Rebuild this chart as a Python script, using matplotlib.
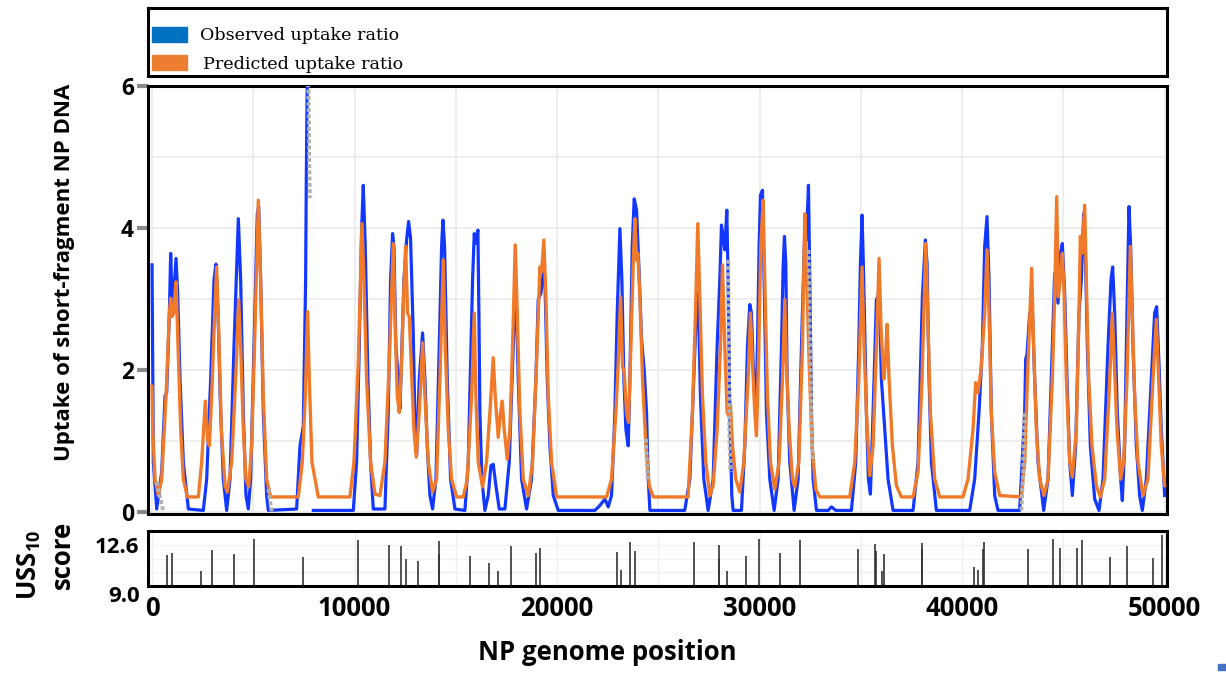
import numpy as np
import matplotlib
matplotlib.use('Agg')
import matplotlib.pyplot as plt
from matplotlib.patches import Rectangle

plt.rcParams['font.family'] = ['Open Sans', 'DejaVu Sans']
plt.rcParams['font.weight'] = 'bold'
plt.rcParams['mathtext.fontset'] = 'custom'
plt.rcParams['mathtext.rm'] = 'Open Sans:bold'
plt.rcParams['mathtext.bf'] = 'Open Sans:bold'

nan = np.nan

# observed uptake ratio
obs_x = [0, 66, 230, 477, 642, 724, 855, 921, 987, 1020, 1184, 1267, 1382, 1546, 1793,
         2533, 2698, 2895, 3060, 3158, 3257, 3389, 3520, 3685, 3849, 4047, 4261, 4376,
         4507, 4639, 4754, 4869, 5034, 5198, 5264, 5363, 5494, 5659, 5741, 7139, 7304,
         7468, 7583, 7616, 7680, nan, 7962, 9936, 10100, 10232, 10347, 10429, 10528,
         10660, 10791, 10923, 11498, 11663, 11778, 11877, 11943, 12041, 12157, 12239,
         12338, 12437, 12568, 12667, 12765, 12897, 12980, 13062, 13193, 13358, 13473,
         13588, 13720, 13852, 14016, 14181, 14296, 14362, 14444, 14576, 14740, 14954,
         15448, 15612, 15727, 15826, 15908, 15990, 16089, 16138, 16188, 16286, 16434,
         16599, 16730, 16846, 16977, 17142, 17422, 17636, 17833, 17964, 18080, 18244,
         18491, 18738, 18952, 19067, 19199, 19314, 19397, 19512, 19644, 19809, 20055,
         21865, 22112, 22358, 22523, 22687, 22852, 22967, 23099, 23197, 23296, 23395,
         23510, 23593, 23708, 23806, 23922, 24037, 24169, 24300, 24415, 24498, 24580,
         26300, 26551, 26748, 26880, 26962, 27078, 27242, 27456, 27703, 27900, 28032,
         28114, 28196, 28279, 28377, 28443, 28525, 28624, 28690, 29101, 29266, 29398,
         29513, 29595, 29677, 29809, 29891, 29973, 30039, 30138, 30220, 30335, 30500,
         30714, 30911, 31076, 31158, 31224, 31290, 31356, 31487, 31701, 31898, 32063,
         32228, 32310, 32409, 32475, 32557, 32640, 32804, 33380, 33545, 33758, 34530,
         34744, 34892, 34974, 35056, 35138, 35270, 35369, 35467, 35599, 35764, 35895,
         36010, 36175, 36339, 36586, 37573, 37820, 38033, 38182, 38264, 38363, 38478,
         38725, 40368, 40615, 40829, 40993, 41109, 41224, 41323, 41438, 41603, 41767,
         42836, 43084, 43133, 43199, 43331, 43462, 43577, 43742, 44022, 44236, 44450,
         44565, 44730, 44845, 44944, 45059, 45174, 45306, 45437, 45602, 45766, 45881,
         45997, 46079, 46178, 46326, 46540, 46754, 46951, 47198, 47346, 47428, 47527,
         47658, 47823, 47905, 48020, 48135, 48234, 48316, 48431, 48596, 48760, 48892,
         49089, 49336, 49500, 49599, 49714, 49829, 49994]
obs_y = [3.48, 0.70, 0.04, 0.56, 1.63, 1.68, 2.80, 3.64, 3.03, 2.80, 3.57, 3.08, 1.87, 0.70, 0.04,
         0.02, 0.46, 1.87, 3.27, 3.49, 2.80, 1.40, 0.46, 0.02, 0.46, 2.33, 4.13, 3.27,
         1.40, 0.23, 0.04, 0.46, 2.33, 4.20, 4.30, 3.27, 1.40, 0.23, 0.02, 0.04, 0.93,
         1.21, 3.27, 4.67, 6.60, nan, 0.02, 0.02, 0.70, 2.33, 3.97, 4.60, 3.74,
         1.87, 0.70, 0.04, 0.04, 1.40, 3.27, 3.92, 3.74, 2.33, 1.87, 1.45,
         2.33, 3.27, 3.83, 4.09, 3.85, 2.50, 1.30, 0.80, 1.87, 2.52, 1.87,
         0.93, 0.23, 0.04, 0.46, 2.33, 3.74, 4.11, 3.74, 1.87, 0.46, 0.04,
         0.02, 0.70, 2.10, 3.27, 3.92, 3.78, 3.97, 2.80, 1.40, 0.46, 0.02,
         0.23, 0.65, 0.67, 0.37, 0.04, 0.04, 0.70, 2.33, 3.27, 1.87, 0.46,
         0.04, 0.46, 1.87, 2.99, 3.08, 3.36, 3.27, 1.87, 0.93, 0.23, 0.02,
         0.02, 0.09, 0.18, 0.07, 0.23, 1.40, 2.80, 3.99, 3.27, 1.87, 1.16,
         0.93, 1.87, 3.74, 4.41, 4.25, 3.45, 2.43, 2.00, 1.40, 0.46, 0.02,
         0.02, 0.46, 1.87, 2.85, 3.10, 1.60, 0.46, 0.02, 0.46, 2.33, 3.27,
         4.04, 3.88, 3.69, 4.25, 3.27, 1.40, 0.23, 0.02, 0.02, 0.93, 2.33,
         2.92, 2.80, 2.10, 1.35, 2.33, 3.74, 4.46, 4.53, 3.27, 1.40, 0.46,
         0.02, 0.46, 2.33, 3.45, 3.88, 3.50, 1.87, 0.70, 0.02, 0.46, 2.33,
         3.97, 3.83, 4.60, 3.27, 1.40, 0.46, 0.02, 0.02, 0.07, 0.02, 0.02,
         0.70, 2.33, 3.50, 4.18, 3.27, 1.40, 0.46, 0.25, 1.40, 2.99, 3.08,
         1.87, 1.16, 0.46, 0.02, 0.02, 0.70, 3.03, 3.83, 3.50, 1.87, 0.70,
         0.02, 0.02, 0.46, 1.40, 2.33, 3.74, 4.16, 3.27, 1.40, 0.23, 0.02,
         0.02, 1.40, 2.15, 2.22, 2.80, 2.85, 1.87, 0.70, 0.02, 0.46, 2.33,
         3.36, 2.94, 3.64, 3.78, 3.08, 1.87, 0.70, 0.23, 0.93, 2.80, 3.27,
         4.20, 3.69, 2.33, 0.93, 0.18, 0.02, 0.46, 2.33, 3.27, 3.45, 2.80,
         1.40, 0.46, 0.16, 0.93, 2.80, 4.30, 3.74, 2.33, 0.93, 0.23, 0.02,
         0.46, 1.87, 2.80, 2.89, 2.10, 1.16, 0.23]

# predicted uptake ratio
pred_x = [0, 33, 148, 313, 477, 691, 855, 921, 987, 1069, 1184, 1283, 1415, 1546, 1744,
          2287, 2451, 2632, 2747, 2829, 2945, 3093, 3191, 3290, 3422, 3603, 3718, 3932,
          4129, 4277, 4376, 4507, 4639, 4771, 4919, 5083, 5248, 5363, 5494, 5659, 5856,
          7222, 7419, 7567, 7682, 7764, 7896, 8209, 9771, 9969, 10183, 10364, 10462,
          10594, 10791, 11005, 11252, 11498, 11712, 11909, 12008, 12107, 12206, 12322,
          12437, 12519, 12618, 12700, 12815, 12930, 13045, 13193, 13276, 13358, 13473,
          13638, 13852, 14049, 14214, 14378, 14477, 14625, 14790, 15036, 15365, 15563,
          15777, 15908, 15990, 16105, 16319, 16517, 16681, 16846, 16944, 17093, 17208,
          17290, 17389, 17537, 17669, 17800, 17932, 18031, 18162, 18327, 18574, 18788,
          18985, 19150, 19232, 19345, 19446, 19561, 19726, 19973, 22441, 22687, 22901,
          23016, 23132, 23230, 23312, 23427, 23526, 23641, 23757, 23839, 23922, 23987,
          24086, 24218, 24382, 24547, 24744, 26468, 26682, 26830, 26945, 27044, 27176,
          27341, 27538, 27703, 27900, 28065, 28163, 28279, 28394, 28476, 28558, 28657,
          28821, 29019, 29216, 29430, 29546, 29644, 29760, 29842, 29941, 30056, 30171,
          30270, 30385, 30533, 30747, 30961, 31125, 31241, 31323, 31455, 31619, 31734,
          31932, 32113, 32228, 32327, 32442, 32590, 32771, 32968, 34448, 34695, 34892,
          35056, 35155, 35270, 35434, 35599, 35764, 35895, 35994, 36126, 36208, 36290,
          36389, 36553, 36750, 36997, 37573, 37820, 38017, 38198, 38297, 38428, 38642,
          38889, 40039, 40286, 40533, 40665, 40780, 40944, 41109, 41224, 41323, 41438,
          41603, 41849, 42918, 43084, 43249, 43429, 43528, 43659, 43824, 44038, 44236,
          44450, 44565, 44664, 44746, 44845, 44944, 45026, 45141, 45306, 45437, 45635,
          45766, 45832, 45914, 46046, 46128, 46244, 46408, 46622, 46820, 47033, 47247,
          47412, 47511, 47642, 47823, 47971, 48135, 48300, 48398, 48514, 48678, 48925,
          49171, 49418, 49583, 49698, 49829, 49994]
pred_y = [1.77, 1.16, 0.46, 0.23, 0.46, 1.63, 2.80, 3.01, 2.75, 2.80, 3.24, 2.33, 1.16, 0.46, 0.21,
          0.21, 0.70, 1.56, 1.02, 0.93, 1.63, 2.80, 3.45, 2.57, 1.16, 0.37, 0.28, 0.70,
          1.87, 2.99, 2.33, 1.16, 0.46, 0.35, 0.93, 2.57, 4.39, 3.27, 1.63, 0.46, 0.21,
          0.21, 0.70, 1.63, 2.82, 1.87, 0.70, 0.21, 0.21, 0.70, 2.10, 4.06, 3.27,
          1.87, 0.70, 0.25, 0.23, 0.70, 2.10, 3.78, 2.57, 1.63, 1.40, 2.10,
          3.17, 3.74, 2.80, 2.75, 1.96, 1.16, 0.77, 1.40, 1.87, 2.38, 1.63,
          0.70, 0.28, 0.46, 1.87, 3.55, 2.33, 1.16, 0.46, 0.21, 0.21, 0.46,
          1.63, 2.80, 1.63, 0.70, 0.35, 0.70, 1.40, 2.17, 1.63, 1.05, 1.40,
          1.56, 1.16, 0.74, 1.16, 2.33, 3.76, 2.80, 1.40, 0.46, 0.23, 0.70,
          2.10, 3.45, 3.38, 3.83, 3.03, 1.63, 0.70, 0.21, 0.21, 0.46, 1.40,
          2.10, 3.03, 2.05, 1.96, 1.40, 1.26, 2.33, 3.50, 4.13, 3.55, 3.64,
          3.03, 1.87, 0.93, 0.37, 0.21, 0.21, 1.40, 2.80, 4.06, 3.03, 1.63,
          0.70, 0.23, 0.37, 1.16, 2.33, 3.48, 2.33, 1.40, 1.35, 1.51, 0.93,
          0.46, 0.28, 0.70, 1.87, 2.80, 2.10, 1.40, 1.07, 2.10, 3.74, 4.39,
          3.03, 1.63, 0.70, 0.32, 0.70, 1.87, 2.99, 2.10, 1.16, 0.46, 0.35,
          0.70, 2.33, 4.20, 3.27, 2.10, 0.93, 0.32, 0.21, 0.21, 0.70, 1.87,
          3.45, 2.33, 1.40, 0.51, 0.93, 2.33, 3.57, 2.57, 1.87, 2.10, 2.64,
          1.87, 0.93, 0.37, 0.21, 0.21, 0.56, 1.87, 3.78, 2.80, 1.40, 0.46,
          0.21, 0.21, 0.46, 1.16, 1.82, 1.68, 2.05, 2.80, 3.69, 2.80, 1.40,
          0.56, 0.23, 0.21, 0.70, 2.10, 3.43, 2.33, 1.16, 0.46, 0.23, 0.46,
          1.87, 3.03, 4.44, 3.03, 3.27, 3.64, 3.13, 1.87, 0.70, 0.49, 1.16,
          2.80, 3.88, 3.64, 4.32, 3.27, 1.87, 0.93, 0.37, 0.21, 0.46, 1.63,
          2.80, 2.10, 1.16, 0.46, 0.70, 1.87, 3.74, 2.80, 1.63, 0.70, 0.23,
          0.46, 1.87, 2.71, 1.87, 0.93, 0.37]

# low-coverage stretches of the observed ratio (grey)
gray_x = [[230, 560], [5741, 5906], [7700, 7740, 7760, 7790], [24382, 24430, 24470],
          [28443, 28480, 28510, 28560], [32409, 32480, 32560, 32620], [42919, 43000, 43084]]
gray_y = [[0.42, 0.0], [0.32, 0.0], [6.3, 5.6, 5.0, 4.42], [1.03, 0.70, 0.46],
          [3.55, 2.0, 1.0, 0.56], [3.69, 2.5, 1.2, 0.70], [0.02, 0.5, 1.40]]

# USS10 sites: position and score
uss_pos = [730, 970, 2420, 2980, 4060, 5030, 7470, 10150, 11700, 12280, 12540, 13150,
           14180, 14180, 15700, 16620, 17060, 17720, 18950, 19140, 22940, 23165, 23609,
           23856, 26753, 27972, 27972, 28367, 29335, 29962, 31013, 32010, 34863, 35687,
           35737, 36048, 36132, 37992, 38020, 40559, 40786, 41018, 41052, 43225, 44459,
           44804, 45658, 45890, 47287, 48141, 49395, 49868]
uss_score = [11.70, 11.94, 10.35, 12.15, 11.85, 13.11, 11.55, 13.05, 12.6, 12.51, 11.34, 11.19,
             12.96, 11.85, 11.61, 11.01, 10.35, 12.51, 11.91, 12.30, 12.00, 10.44, 12.84,
             12.09, 12.84, 12.60, 11.34, 10.29, 11.61, 13.11, 11.91, 13.02, 12.24, 12.69,
             12.06, 10.35, 11.85, 12.81, 12.21, 10.65, 10.41, 12.21, 12.90, 12.24, 13.11,
             12.36, 12.36, 13.05, 11.55, 12.54, 11.49, 13.5]

fig = plt.figure(figsize=(12.26, 6.73), dpi=100)
ax_leg = fig.add_axes([0.1207, 0.887, 0.831, 0.101])
ax = fig.add_axes([0.1207, 0.2363, 0.831, 0.636])
ax_uss = fig.add_axes([0.1207, 0.129, 0.831, 0.0817])

# legend panel
ax_leg.set_xticks([])
ax_leg.set_yticks([])
for s in ax_leg.spines.values():
    s.set_linewidth(2.2)
ax_leg.add_patch(Rectangle((0.004, 0.50), 0.034, 0.22, color='#0070c0', transform=ax_leg.transAxes))
ax_leg.add_patch(Rectangle((0.004, 0.09), 0.034, 0.22, color='#ed7d31', transform=ax_leg.transAxes))
ax_leg.text(0.051, 0.59, 'Observed uptake ratio', family='DejaVu Serif', weight='normal',
            fontsize=12.6, va='center', transform=ax_leg.transAxes)
ax_leg.text(0.054, 0.17, 'Predicted uptake ratio', family='DejaVu Serif', weight='normal',
            fontsize=12.6, va='center', transform=ax_leg.transAxes)

# main panel
ax.plot(obs_x, obs_y, color='#1238ff', lw=2.3, zorder=3)
ax.plot(pred_x, pred_y, color='#f07a2a', lw=2.4, zorder=4)
for gx, gy in zip(gray_x, gray_y):
    ax.plot(gx, gy, color='#b0b0b0', lw=2.8, ls=(0, (1, 0.6)), zorder=5)
ax.set_xlim(-200, 50100)
ax.set_ylim(-0.03, 6.0)
ax.set_xticks(range(0, 50001, 5000))
ax.set_yticks([0, 2, 4, 6])
ax.set_yticks([1, 3, 5], minor=True)
ax.grid(True, which='both', color='#ebebeb', lw=1.2, zorder=0)
ax.tick_params(axis='x', bottom=False, labelbottom=False)
ax.tick_params(axis='y', which='major', length=8, width=3, color='#8a8a8a', labelsize=16.5, pad=2)
ax.tick_params(axis='y', which='minor', length=0)
for lab in ax.get_yticklabels():
    lab.set_fontweight('bold')
for s in ax.spines.values():
    s.set_linewidth(2.2)

# USS panel
ax_uss.vlines(uss_pos, 9.0, uss_score, color='#333333', lw=1.2)
ax_uss.set_xlim(-200, 50100)
ax_uss.set_ylim(9.0, 13.8)
ax_uss.set_yticks([9.0, 12.6])
ax_uss.set_yticklabels(['9.0', '12.6'])
ax_uss.set_yticks([10.2, 11.4], minor=True)
ax_uss.set_xticks(range(0, 50001, 10000))
ax_uss.set_xticks(range(5000, 50000, 10000), minor=True)
ax_uss.grid(True, which='both', color='#f0f0f0', lw=1.0)
ax_uss.tick_params(axis='both', which='both', length=0)
ax_uss.tick_params(axis='y', labelsize=16, pad=6)
ax_uss.tick_params(axis='x', labelsize=18.5, pad=6)
ax_uss.get_yticklabels()[0].set_va('top')
for s in ax_uss.spines.values():
    s.set_linewidth(2.2)

fig.text(0.053, 0.596, 'Uptake of short-fragment NP DNA', rotation=90, fontsize=16,
         fontweight='bold', ha='center', va='center')
fig.text(0.495, 0.030, 'NP genome position', fontsize=18.5, fontweight='bold',
         ha='center', va='center')
fig.text(0.024, 0.160, 'USS$_{10}$', rotation=90, fontsize=18.5, fontweight='bold',
         ha='center', va='center')
fig.text(0.051, 0.176, 'score', rotation=90, fontsize=18.5, fontweight='bold',
         ha='center', va='center')

fig.patches.append(Rectangle((0.9935, 0.004), 0.0065, 0.009, color='#4472c4',
                             transform=fig.transFigure, figure=fig))

fig.savefig('out.png', dpi=100)
